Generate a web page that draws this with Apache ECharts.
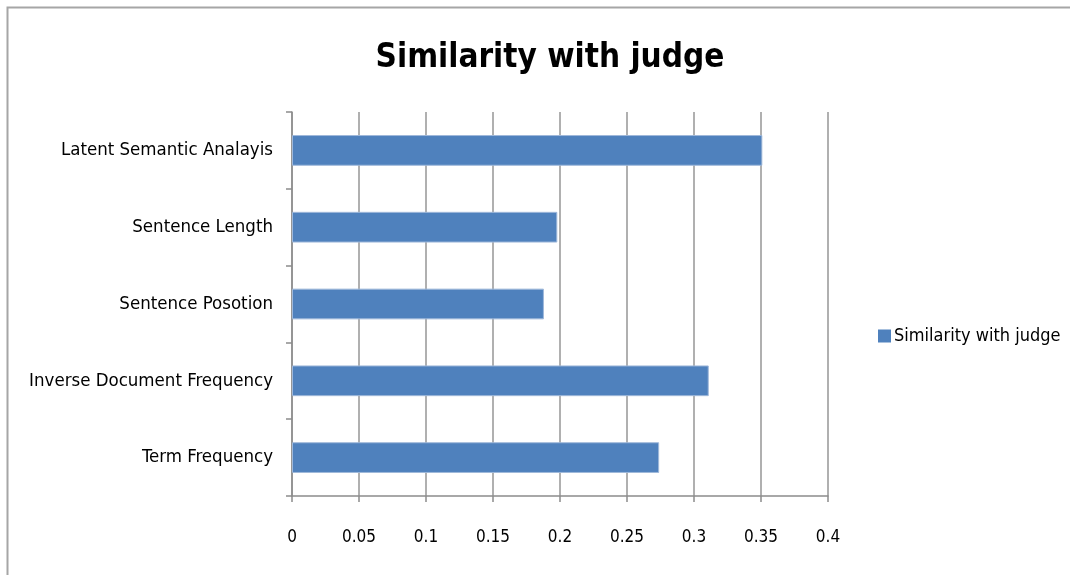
<!DOCTYPE html>
<html>
<head>
<meta charset="utf-8">
<script src="https://cdn.jsdelivr.net/npm/echarts@6/dist/echarts.min.js"></script>
<style>
  html, body { margin: 0; padding: 0; background: #fff; }
  #chart { width: 1070px; height: 575px; }
</style>
</head>
<body>
<div id="chart"></div>
<script>
// Categories listed bottom to top, as the category axis stacks them
const categories = [
  'Term Frequency',
  'Inverse Document Frequency',
  'Sentence Posotion',
  'Sentence Length',
  'Latent Semantic Analayis'
];
const similarity = [0.274, 0.311, 0.188, 0.198, 0.351];
const xTicks = [0, 0.05, 0.1, 0.15, 0.2, 0.25, 0.3, 0.35, 0.4];
const seriesName = 'Similarity with judge';
const titleText = 'Similarity with judge';

const FONT = '"DejaVu Sans Condensed", "Liberation Sans Narrow", "Liberation Sans", sans-serif';

const chart = echarts.init(document.getElementById('chart'), null, { renderer: 'canvas' });

chart.setOption({
  animation: false,
  backgroundColor: '#ffffff',
  title: {
    text: titleText,
    left: 545,
    textAlign: 'center',
    top: 37,
    textStyle: { fontFamily: FONT, fontSize: 33, fontWeight: 'bold', color: '#000' }
  },
  legend: {
    data: [seriesName],
    left: 873,
    top: 322,
    itemWidth: 13,
    itemHeight: 13,
    itemGap: 4,
    icon: 'rect',
    itemStyle: { borderWidth: 0 },
    textStyle: { fontFamily: FONT, fontSize: 18, color: '#000', padding: [0, 0, 0, -2] }
  },
  grid: { left: 292, top: 112, right: 242, bottom: 79, containLabel: false },
  xAxis: {
    type: 'value',
    min: xTicks[0],
    max: xTicks[xTicks.length - 1],
    interval: 0.05,
    axisLine: { show: true, lineStyle: { color: '#8c8c8c', width: 1.5 } },
    axisTick: { show: true, length: 6, lineStyle: { color: '#8c8c8c', width: 1.5 } },
    splitLine: { show: true, lineStyle: { color: '#969696', width: 1.5 } },
    axisLabel: {
      margin: 33,
      fontFamily: FONT,
      fontSize: 17,
      color: '#000',
      formatter: v => String(Math.round(v * 100) / 100)
    }
  },
  yAxis: {
    type: 'category',
    data: categories,
    axisLine: { show: true, lineStyle: { color: '#8c8c8c', width: 1.5 } },
    axisTick: { show: true, length: 6, alignWithLabel: false, lineStyle: { color: '#8c8c8c', width: 1.5 } },
    axisLabel: { margin: 19, fontFamily: FONT, fontSize: 18.5, color: '#000', padding: [4, 0, 0, 0] }
  },
  series: [{
    name: seriesName,
    type: 'bar',
    data: similarity,
    barWidth: '40%',
    itemStyle: { color: '#4f81bd', borderColor: '#9fb8da', borderWidth: 1 }
  }],
  graphic: [
    {
      type: 'polyline',
      silent: true,
      shape: { points: [[7.5, 575], [7.5, 7.5], [1070, 7.5]] },
      style: { stroke: '#a6a6a6', lineWidth: 2, fill: null }
    }
  ]
});
</script>
</body>
</html>
